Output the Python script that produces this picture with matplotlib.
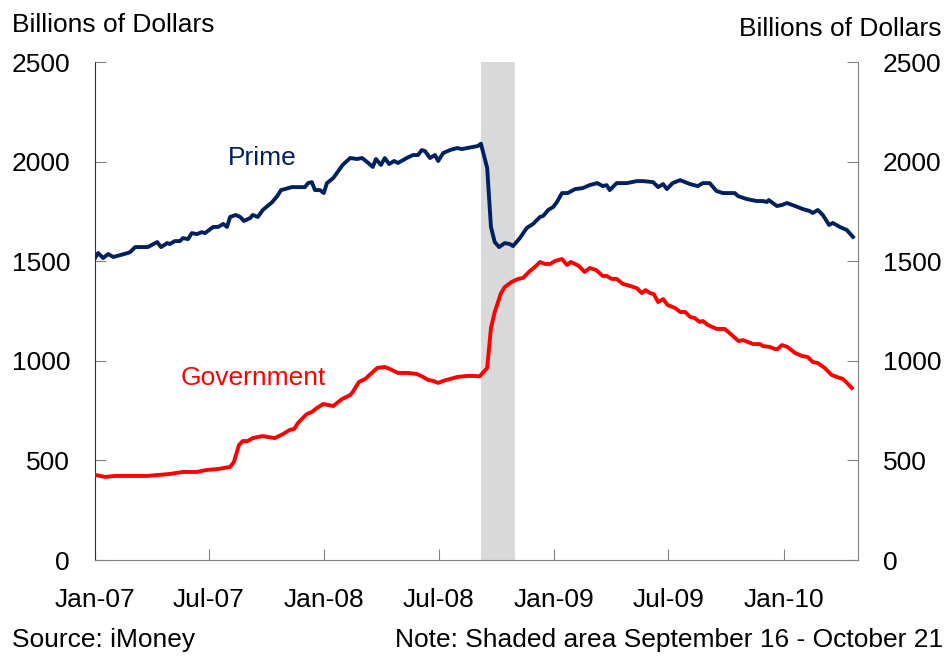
import matplotlib
matplotlib.use("Agg")
import matplotlib.pyplot as plt
import matplotlib.dates as mdates
import pandas as pd

plt.rcParams['font.family'] = ['Liberation Sans', 'DejaVu Sans']

start = pd.Timestamp('2007-01-01')

# days since 2007-01-01, values in billions of dollars
prime_days = [0, 5, 13, 21, 29, 52, 56, 64, 84, 99, 105, 115, 119, 127, 135, 140, 148, 154, 162, 170,
              175, 188, 196, 204, 210, 215, 224, 231, 237, 247, 251, 259, 267, 282, 290, 296, 302, 313,
              329, 334, 339, 345, 350, 358, 364, 369, 379, 394, 406, 417, 425, 433, 442, 447, 455, 461,
              468, 476, 482, 496, 506, 514, 520, 525, 533, 541, 546, 554, 565, 576, 584, 592, 609, 614,
              624, 630, 636, 643, 652, 660, 665, 676, 687, 697, 708, 713, 721, 729, 735, 743, 752, 764,
              776, 787, 799, 808, 814, 819, 830, 846, 862, 872, 888, 896, 904, 910, 919, 931, 947, 959,
              967, 978, 989, 999, 1010, 1018, 1023, 1037, 1053, 1063, 1069, 1072, 1085, 1093, 1101,
              1114, 1126, 1137, 1142, 1150, 1158, 1168, 1174, 1185, 1196, 1206]
prime_vals = [1516, 1541, 1516, 1536, 1521, 1541, 1546, 1571, 1571, 1596, 1571, 1591, 1586, 1601, 1601,
              1616, 1611, 1641, 1636, 1646, 1641, 1672, 1672, 1687, 1672, 1722, 1732, 1722, 1702, 1717,
              1732, 1722, 1757, 1797, 1827, 1857, 1862, 1872, 1872, 1872, 1892, 1897, 1857, 1857, 1842,
              1892, 1917, 1983, 2018, 2013, 2018, 1998, 1973, 2013, 1983, 2018, 1988, 2003, 1993, 2018,
              2033, 2033, 2058, 2053, 2018, 2033, 2003, 2043, 2058, 2068, 2063, 2068, 2078, 2090, 1968,
              1672, 1596, 1571, 1591, 1586, 1576, 1616, 1667, 1687, 1722, 1727, 1757, 1772, 1797, 1842,
              1842, 1862, 1867, 1882, 1892, 1877, 1882, 1857, 1892, 1892, 1902, 1902, 1897, 1872, 1887,
              1862, 1892, 1907, 1887, 1877, 1892, 1892, 1852, 1842, 1842, 1842, 1827, 1812, 1802, 1802,
              1797, 1807, 1777, 1782, 1792, 1777, 1762, 1752, 1742, 1757, 1732, 1682, 1692, 1672, 1657,
              1622]

gov_days = [0, 16, 32, 83, 119, 140, 162, 178, 196, 215, 221, 229, 235, 243, 251, 266, 286, 299, 310,
            317, 323, 337, 345, 353, 363, 379, 393, 406, 410, 420, 430, 449, 461, 469, 482, 498, 512,
            522, 530, 538, 546, 554, 565, 577, 592, 601, 612, 624, 630, 636, 646, 652, 663, 673, 681,
            692, 700, 708, 716, 724, 732, 743, 751, 757, 764, 770, 779, 787, 797, 808, 814, 822, 830,
            840, 851, 862, 870, 876, 883, 889, 896, 904, 911, 923, 931, 939, 947, 954, 962, 967, 975,
            989, 1002, 1013, 1024, 1031, 1047, 1058, 1063, 1074, 1082, 1086, 1093, 1102, 1114, 1125,
            1134, 1142, 1150, 1161, 1172, 1180, 1190, 1198, 1204]
gov_vals = [427, 417, 422, 422, 432, 442, 442, 452, 457, 467, 492, 577, 597, 597, 612, 622, 612, 632,
            653, 658, 688, 733, 743, 763, 783, 773, 808, 828, 843, 894, 909, 964, 969, 959, 939, 939,
            934, 919, 904, 899, 889, 899, 909, 919, 924, 924, 922, 964, 1165, 1245, 1340, 1370, 1396,
            1411, 1416, 1451, 1471, 1496, 1486, 1486, 1501, 1511, 1481, 1496, 1486, 1476, 1446, 1466,
            1456, 1426, 1426, 1411, 1411, 1386, 1376, 1365, 1340, 1355, 1340, 1335, 1295, 1310, 1280,
            1265, 1245, 1245, 1220, 1215, 1195, 1200, 1180, 1160, 1160, 1130, 1099, 1104, 1084, 1084,
            1074, 1069, 1059, 1059, 1079, 1069, 1039, 1024, 1019, 994, 989, 964, 929, 919, 909, 884, 864]

tick_dates = ['2007-01-01', '2007-07-01', '2008-01-01', '2008-07-01',
              '2009-01-01', '2009-07-01', '2010-01-01']
shade_start, shade_end = '2008-09-06', '2008-10-30'
x_end = '2010-04-29'

prime_x = [start + pd.Timedelta(days=d) for d in prime_days]
gov_x = [start + pd.Timedelta(days=d) for d in gov_days]

navy = '#002060'
red = '#ff0000'
grey = '#808080'

fig = plt.figure(figsize=(9.46, 6.56), dpi=100)
ax = fig.add_axes([95 / 946, 96 / 656, 763 / 946, 498 / 656])

ax.axvspan(pd.Timestamp(shade_start), pd.Timestamp(shade_end), color='#d9d9d9', lw=0, zorder=0)
ax.plot(prime_x, prime_vals, color=navy, lw=2.8, solid_joinstyle='round', zorder=3)
ax.plot(gov_x, gov_vals, color=red, lw=2.8, solid_joinstyle='round', zorder=3)

ax.set_xlim(start, pd.Timestamp(x_end))
ax.set_ylim(0, 2500)
ax.set_yticks([0, 500, 1000, 1500, 2000, 2500])
ax.set_xticks([pd.Timestamp(d) for d in tick_dates])
ax.xaxis.set_major_formatter(mdates.DateFormatter('%b-%y'))

ax.tick_params(axis='y', direction='in', length=8, color=grey, labelsize=19, pad=18,
               left=True, right=True, labelleft=True, labelright=True)
ax.tick_params(axis='x', direction='in', length=8, color=grey, labelsize=19, pad=20)

ax.spines['top'].set_visible(False)
ax.spines['left'].set_color('#333333')
ax.spines['bottom'].set_color(grey)
ax.spines['right'].set_color(grey)

ax.text(pd.Timestamp('2007-07-31'), 2020, 'Prime', color=navy, fontsize=19, va='center')
ax.text(pd.Timestamp('2007-05-18'), 915, 'Government', color=red, fontsize=19, va='center')

fig.text(12 / 946, 1 - 25 / 656, 'Billions of Dollars', fontsize=19, ha='left', va='center')
fig.text(941 / 946, 1 - 29 / 656, 'Billions of Dollars', fontsize=19, ha='right', va='center')
fig.text(12 / 946, 1 - 640 / 656, 'Source: iMoney', fontsize=19, ha='left', va='center')
fig.text(943 / 946, 1 - 640 / 656, 'Note: Shaded area September 16 - October 21', fontsize=19,
         ha='right', va='center')

fig.savefig('out.png', dpi=100)
